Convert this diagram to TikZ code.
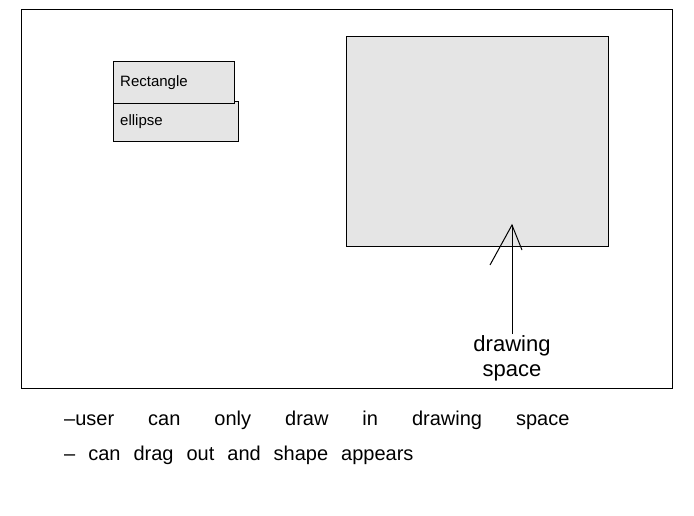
\documentclass[tikz,border=0pt]{standalone}
\usepackage{fontspec}
\setmainfont{Liberation Sans}
\begin{document}
\begin{tikzpicture}[x=1pt,y=-1pt,
  frame/.style={draw=black, line width=1pt},
  panel/.style={draw=black, line width=0.9pt, fill=gray!20},
  hand/.style={font=\fontsize{15}{17}\selectfont, inner sep=0pt},
  note/.style={font=\fontsize{20}{22}\selectfont, inner sep=0pt, anchor=west}]
\useasboundingbox (0,0) rectangle (694,516);
\draw[frame] (21,10) rectangle (672,388);
% drawing space
\node[panel, minimum width=262pt, minimum height=210pt, anchor=north west, inner sep=0pt] (space) at (346,36) {};
% shape buttons
\node[panel, minimum width=125pt, minimum height=40pt, anchor=north west, inner sep=0pt] (ellipse) at (113,101) {};
\node[hand, anchor=west] at ([xshift=7pt]ellipse.west) {ellipse};
\node[panel, minimum width=121pt, minimum height=42pt, anchor=north west, inner sep=0pt] (rect) at (113,61) {};
\node[hand, anchor=west] at ([xshift=7pt]rect.west) {Rectangle};
% label and arrow
\node[font=\fontsize{22}{25}\selectfont, align=center, inner sep=1pt] (label) at (512,358) {drawing\\space};
\coordinate (tip) at (512,225);
\draw[line width=1pt] (label.north) -- (tip);
\draw[line width=1pt] (490,265) -- (tip) -- (522,250);
% notes
\node[note] (n1) at (64,420) {\spaceskip=34pt plus 2pt –user can only draw in drawing space};
\node[note] (n2) at (64,455) {\spaceskip=13pt plus 2pt – can drag out and shape appears};
\end{tikzpicture}
\end{document}
